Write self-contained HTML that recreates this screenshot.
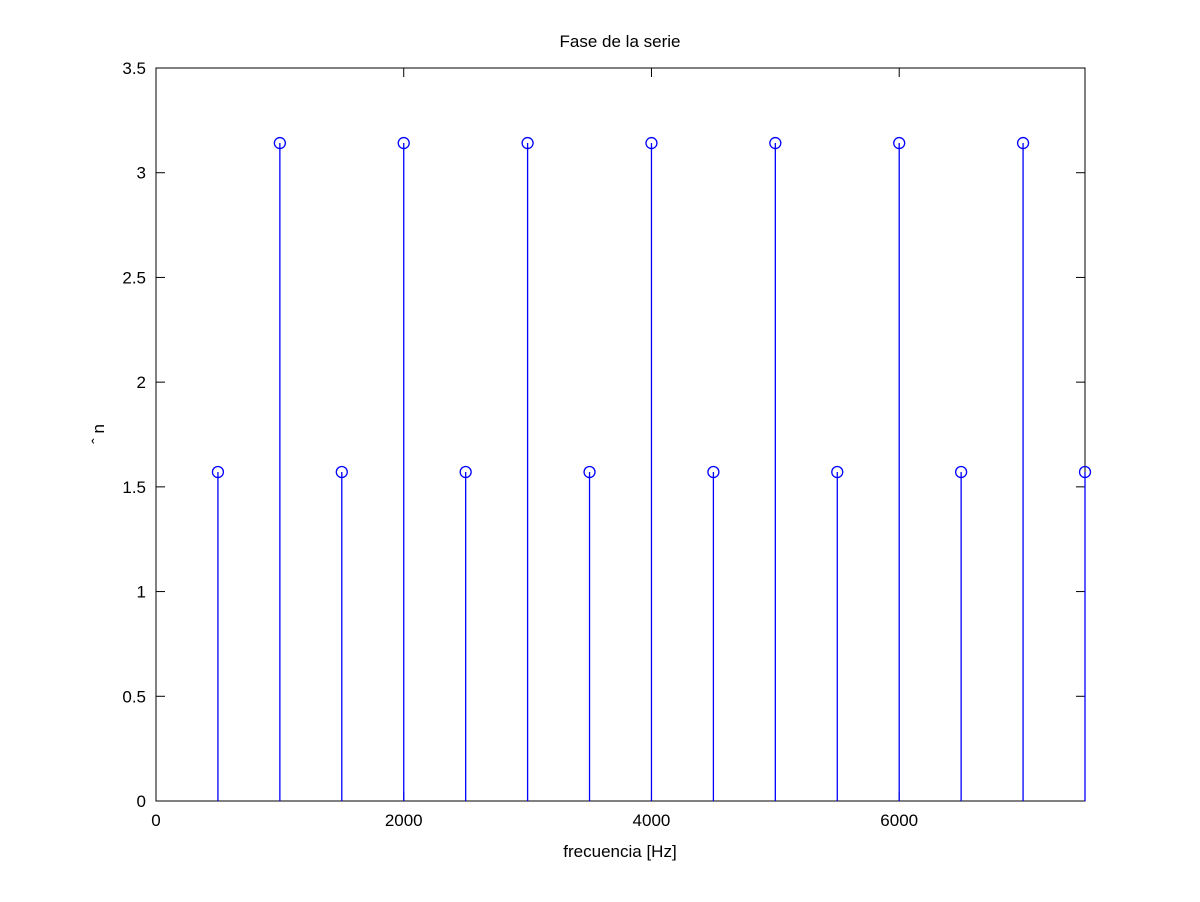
<!DOCTYPE html>
<html><head><meta charset="utf-8"><style>body{margin:0;background:#fff}svg{display:block}text{font-family:"Liberation Sans",sans-serif;fill:#000}</style></head>
<body>
<svg id="c" width="1200" height="902">
<rect x="0" y="0" width="1200" height="902" fill="#fff"/>
<text x="620" y="47" font-size="17" text-anchor="middle">Fase de la serie</text>
<text x="620" y="857" font-size="17" text-anchor="middle">frecuencia [Hz]</text>
<text transform="translate(104,434) rotate(-90)" font-size="17" text-anchor="middle">ˆ n</text>
<g id="ax"></g><g id="marks"></g>
</svg>
<script>
const freqs=[500,1000,1500,2000,2500,3000,3500,4000,4500,5000,5500,6000,6500,7000,7500];
const phases=[1.5708,3.1416,1.5708,3.1416,1.5708,3.1416,1.5708,3.1416,1.5708,3.1416,1.5708,3.1416,1.5708,3.1416,1.5708];
const xTicks=[0,2000,4000,6000];
const yTicks=[0,0.5,1,1.5,2,2.5,3,3.5];
const yTickLabels=["0","0.5","1","1.5","2","2.5","3","3.5"];
const L=156,R=1085,T=68,B=801,xmax=7500,ymax=3.5;
const X=v=>L+(R-L)*v/xmax, Y=v=>B-(B-T)*v/ymax;
const NS="http://www.w3.org/2000/svg";
function mk(tag,at,par){const e=document.createElementNS(NS,tag);for(const k in at)e.setAttribute(k,at[k]);par.appendChild(e);return e;}
const ax=document.getElementById('ax'),mg=document.getElementById('marks');
const box=mk('rect',{x:L,y:T,width:R-L,height:B-T,fill:'none',stroke:'#000','stroke-width':1},ax);


xTicks.forEach(v=>{const x=X(v);
mk('line',{x1:x,x2:x,y1:B,y2:B-9,stroke:'#000'},ax);mk('line',{x1:x,x2:x,y1:T,y2:T+9,stroke:'#000'},ax);
const t=mk('text',{x:x,y:B+25,'font-size':17,'text-anchor':'middle'},ax);t.textContent=v;

});
yTicks.forEach((v,i)=>{const y=Y(v);
mk('line',{x1:L,x2:L+9,y1:y,y2:y,stroke:'#000'},ax);mk('line',{x1:R,x2:R-9,y1:y,y2:y,stroke:'#000'},ax);
const t=mk('text',{x:L-10,y:y+6,'font-size':17,'text-anchor':'end'},ax);t.textContent=yTickLabels[i];

});
freqs.forEach((f,i)=>{const x=X(f),y=Y(phases[i]);
const l=mk('line',{x1:x,x2:x,y1:B,y2:y,stroke:'#0000ff','stroke-width':1.3},mg);


const c=mk('circle',{cx:x,cy:y,r:5.5,fill:'none',stroke:'#0000ff','stroke-width':1.3},mg);

});
</script>
</body></html>
